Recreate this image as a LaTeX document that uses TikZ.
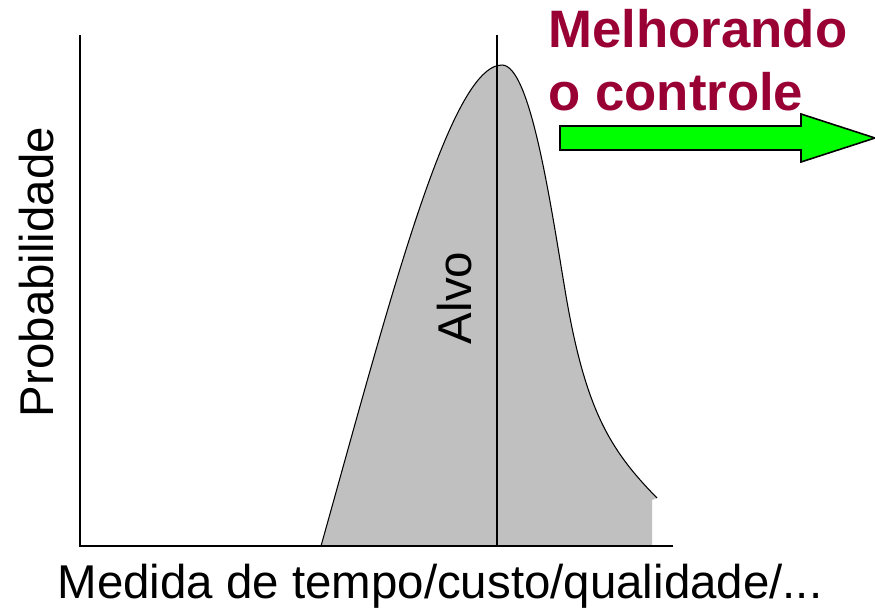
\documentclass[tikz,border=0pt]{standalone}
\usepackage{fontspec}
\setmainfont{Liberation Sans}
\usepackage{xcolor}
\usetikzlibrary{positioning,calc}
\definecolor{vinho}{HTML}{990033}
\definecolor{verde}{HTML}{00FF00}
\definecolor{cinza}{HTML}{C0C0C0}

\begin{document}
\begin{tikzpicture}[x=0.02cm, y=-0.02cm, semithick]
	\tikzstyle{rotulo}=[font=\fontsize{27}{32}\selectfont, text=black, inner sep=0pt]
	\tikzstyle{titulo}=[font=\fontsize{30}{36}\selectfont\bfseries, text=vinho, inner sep=0pt, anchor=base west]
	\useasboundingbox (0,0) rectangle (875,615);
	% eixos
	\coordinate (O) at (80,546);
	\coordinate (Ytop) at (80,35);
	\coordinate (Xend) at (673,546);
	\coordinate (Atop) at (497,35);
	\coordinate (Abot) at (497,546);
	% curva
	\coordinate (ini) at (321,546);
	\coordinate (pico) at (502,65);
	\coordinate (meio) at (565,290);
	\coordinate (fim) at (657,498);
	\fill[cinza] (ini) .. controls (390,300) and (450,65) .. (pico)
		.. controls (530,65) and (550,200) .. (meio)
		.. controls (585,410) and (610,450) .. (fim)
		-- (652,500) -- (652,546) -- cycle;
	\draw (ini) .. controls (390,300) and (450,65) .. (pico)
		.. controls (530,65) and (550,200) .. (meio)
		.. controls (585,410) and (610,450) .. (fim);
	\draw (Ytop) -- (O) -- (Xend);
	\draw (Atop) -- (Abot);
	% textos
	\node[rotulo] (alvo) at (455,298) [rotate=90] {Alvo};
	\node[rotulo] (prob) at (37,272) [rotate=90] {Probabilidade};
	\node[rotulo] (medida) at (440,586) {Medida de tempo/custo/qualidade/...};
	\node[titulo] (mel) at (548,48) {Melhorando};
	\node[titulo] (ctrl) at (548,111) {o controle};
	% seta
	\draw[fill=verde, line width=0.9pt] (560,126) -- (801,126) -- (801,114) -- (875,138)
		-- (801,162) -- (801,150) -- (560,150) -- cycle;
\end{tikzpicture}
\end{document}
